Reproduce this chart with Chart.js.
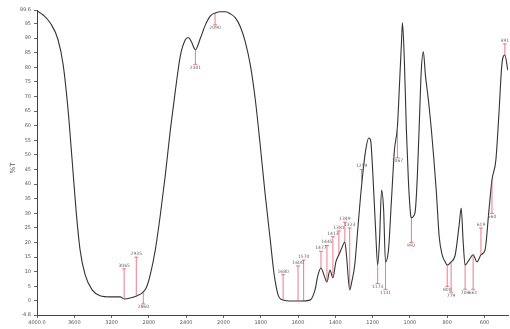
<!DOCTYPE html>
<html><head><meta charset="utf-8">
<script src="https://cdn.jsdelivr.net/npm/chart.js@4.4.0/dist/chart.umd.min.js"></script>
<style>html,body{margin:0;padding:0;background:#fff;overflow:hidden}#wrap{width:510px;height:329px;position:relative}</style>
</head><body><div id="wrap"><canvas id="c"></canvas></div>
<script>
// Wavenumbers (cm-1) and %T
const wavenumbers = [4000,3930,3850,3775,3720,3667,3624,3581,3538,3484,3409,3323,3215,3108,3065,3000,2925,2870,2828,2785,2731,2677,2624,2570,2516,2462,2409,2376,2344,2301,2247,2194,2140,2086,2032,1989,1963,1936,1909,1883,1856,1829,1803,1776,1749,1728,1707,1680,1643,1589,1536,1509,1493,1477,1461,1445,1429,1413,1397,1381,1365,1349,1339,1323,1312,1296,1280,1259,1237,1221,1211,1200,1184,1173,1163,1152,1141,1131,1115,1099,1083,1067,1056,1045,1040,1030,1019,1008,997,992,981,971,960,949,939,928,917,901,885,859,843,827,811,800,779,757,736,725,715,704,683,661,640,619,597,576,560,539,523,507,491,475];
const transmittance = [99.3,97.8,94.8,89.5,81,65.5,48.5,31,17.5,9,3.8,1.8,1.4,1.4,0.7,1.0,1.8,2.8,4.5,9,17.5,29.5,43,58.5,72,84,89.4,90.2,88.7,86,90,94.5,97.6,98.6,99,99,98.3,96.9,93.8,88.7,80.8,68.8,53.4,36.3,20.9,9,2.1,0.3,0,0,0.3,3.8,8.9,11.3,8.9,6.5,10.6,7.9,13.4,15.8,18.2,20.2,14.7,3.8,6.5,12.3,24.3,39.7,51.7,55.8,55.1,44.9,24.3,12.3,20.9,38,31.2,13.4,17.5,34.6,51.7,59.6,74,89,95.2,82.5,58.6,41,30,28.4,29,31,43,62,79,85.3,77.4,68.8,58.6,38,22,15.8,13.4,12.3,13.4,15.8,26,31.8,20.9,12.3,14,15.8,13.4,15.8,17.5,31.2,41.4,48.3,63.7,80.8,84.2,79];

const xTickWavenumbers = [4000,3600,3200,2800,2400,2000,1800,1600,1400,1200,1000,800,600];
const xTickLabels = ['4000.0','3600','3200','2800','2400','2000','1800','1600','1400','1200','1000','800','600'];
const yTickValues = [-4.8,0,5,10,15,20,25,30,35,40,45,50,55,60,65,70,75,80,85,90,95,99.6];
const yTickLabels = ['-4.8','0','5','10','15','20','25','30','35','40','45','50','55','60','65','70','75','80','85','90','95','99.6'];

// Peak markers: wavenumber, %T at curve, %T at label end
const markWn   = [3065,2935,2860,2301,2090,1680,1600,1570,1477,1445,1413,1381,1349,1323,1259,1173,1131,1067,992,800,779,704,661,619,560,491];
const markFrom = [0.7,1.8,2.8,86,98.6,0.3,0,0,11.3,6.5,7.9,15.8,20.2,3.8,39.7,12.3,13.4,59.6,28.4,12.3,13.4,12.3,15.8,15.8,41.4,84.2];
const markTo   = [11,15,-1,81,94.5,9,12,14,17,19,22,24,27,25,45,6,4,49,20,5,3,4,4,25,30,88];

const xMaxWn = 474;
function toAxis(wn){ return wn >= 2000 ? (4000 - wn) / 400 : 5 + (2000 - wn) / 200; }

const points = wavenumbers.map((w, i) => ({x: toAxis(w), y: transmittance[i]}));

const markerPlugin = {
  id: 'markers',
  afterDatasetsDraw(chart) {
    const {ctx, scales: {x, y}} = chart;
    ctx.save();
    ctx.font = '4.5px "DejaVu Sans"';
    ctx.textAlign = 'center';
    markWn.forEach((w, i) => {
      const px = x.getPixelForValue(toAxis(w));
      const y0 = y.getPixelForValue(markFrom[i]);
      const y1 = y.getPixelForValue(markTo[i]);
      ctx.strokeStyle = 'rgba(225,60,85,0.85)';
      ctx.lineWidth = 0.8;
      ctx.beginPath(); ctx.moveTo(px, y0); ctx.lineTo(px, y1); ctx.stroke();
      ctx.beginPath(); ctx.moveTo(px - 2, y1); ctx.lineTo(px + 2, y1); ctx.stroke();
      ctx.fillStyle = '#666';
      const up = markTo[i] > markFrom[i];
      ctx.textBaseline = up ? 'bottom' : 'top';
      ctx.fillText(String(w), px, up ? y1 - 1 : y1 + 1);
    });
    // axis title
    ctx.fillStyle = '#555';
    ctx.font = '7px "DejaVu Sans"';
    ctx.translate(13, 168);
    ctx.rotate(-Math.PI / 2);
    ctx.textAlign = 'center';
    ctx.textBaseline = 'middle';
    ctx.fillText('%T', 0, 0);
    ctx.restore();
  }
};

new Chart(document.getElementById('c'), {
  type: 'line',
  data: { datasets: [{
    data: points,
    borderColor: '#333',
    borderWidth: 1.1,
    pointRadius: 0,
    cubicInterpolationMode: 'monotone',
    fill: false
  }]},
  options: {
    responsive: true,
    maintainAspectRatio: false,
    animation: false,
    layout: { padding: { top: 10, right: 2, left: 0, bottom: 0 } },
    plugins: { legend: { display: false }, tooltip: { enabled: false } },
    scales: {
      x: {
        type: 'linear',
        min: 0,
        max: toAxis(xMaxWn),
        afterBuildTicks: (axis) => { axis.ticks = xTickWavenumbers.map(w => ({value: toAxis(w)})); },
        afterFit: (s) => { s.height = 14; },
        ticks: {
          autoSkip: false, maxRotation: 0, padding: 2,
          font: { size: 5, family: 'DejaVu Sans' }, color: '#555',
          callback: (v, i) => xTickLabels[i]
        },
        grid: { drawOnChartArea: false, tickLength: 3, color: '#666' },
        border: { color: '#444', width: 1 }
      },
      y: {
        min: -4.8,
        max: 99.6,
        afterBuildTicks: (axis) => { axis.ticks = yTickValues.map(v => ({value: v})); },
        afterFit: (s) => { s.width = 37; },
        ticks: {
          autoSkip: false, padding: 3,
          font: { size: 5, family: 'DejaVu Sans' }, color: '#555',
          callback: (v, i) => yTickLabels[i]
        },
        grid: { drawOnChartArea: false, tickLength: 3, color: '#666' },
        border: { color: '#444', width: 1 }
      }
    }
  },
  plugins: [markerPlugin]
});
</script>
</body></html>
